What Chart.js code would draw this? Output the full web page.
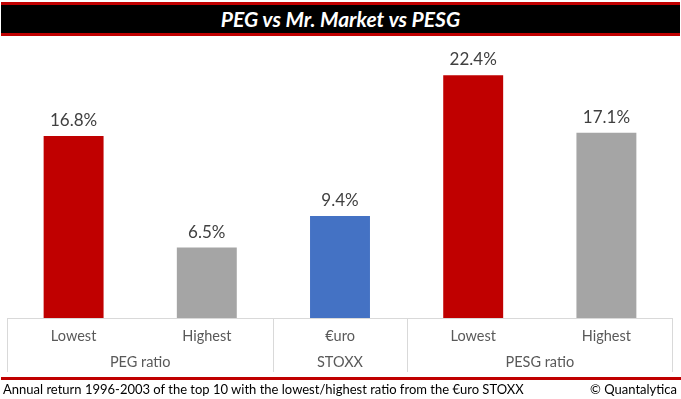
<!DOCTYPE html>
<html>
<head>
<meta charset="utf-8">
<script src="https://cdn.jsdelivr.net/npm/chart.js@4.4.0/dist/chart.umd.min.js"></script>
<style>
  html, body { margin: 0; padding: 0; background: #fff; }
  #wrap { position: relative; width: 681px; height: 399px; overflow: hidden; }
  #c { position: absolute; left: 0; top: 0; }
  #title {
    position: absolute; left: 1px; top: 2px; width: 679px; height: 28px;
    background: #000; border-top: 3px solid #c00000; border-bottom: 3px solid #c00000;
    color: #fff; font-family: Lato, "Open Sans", sans-serif; font-weight: 700; font-style: italic;
    font-size: 21px; line-height: 28px; text-align: center;
  }
  #footline { position: absolute; left: 1px; top: 377px; width: 680px; height: 3px; background: #c00000; }
  #foot {
    position: absolute; left: 3px; right: 4px; top: 381px; height: 16px;
    font-family: Lato, "Open Sans", sans-serif; font-size: 13px; line-height: 16px; color: #000;
  }
  #foot .r { position: absolute; right: 0; top: 0; }
</style>
</head>
<body>
<div id="wrap">
  <canvas id="c" width="681" height="399"></canvas>
  <div id="title">PEG vs Mr. Market vs PESG</div>
  <div id="footline"></div>
  <div id="foot"><span>Annual return 1996-2003 of the top 10 with the lowest/highest ratio from the €uro STOXX</span><span class="r">© Quantalytica</span></div>
</div>
<script>
const categories = ['Lowest', 'Highest', '€uro', 'Lowest', 'Highest'];
const values = [16.8, 6.5, 9.4, 22.4, 17.1];
const barColors = ['#c00000', '#a5a5a5', '#4472c4', '#c00000', '#a5a5a5'];
const groups = ['PEG ratio', 'STOXX', 'PESG ratio'];
const groupSpans = [2, 1, 2];

// derived group centers / boundaries (in category units)
const groupCenters = [];
const boundaries = [-0.5];
let start = -0.5;
groupSpans.forEach(s => { groupCenters.push(start + s / 2); start += s; boundaries.push(start); });

const FONT = 'Lato, "Open Sans", sans-serif';

const labelPlugin = {
  id: 'barLabels',
  afterDatasetsDraw(chart) {
    const ctx = chart.ctx;
    const meta = chart.getDatasetMeta(0);
    ctx.save();
    ctx.font = '17px ' + FONT;
    ctx.fillStyle = '#404040';
    ctx.textAlign = 'center';
    ctx.textBaseline = 'alphabetic';
    meta.data.forEach((bar, i) => {
      ctx.fillText(values[i].toFixed(1) + '%', bar.x, bar.y - 10);
    });
    ctx.restore();
  }
};

const boxPlugin = {
  id: 'groupBox',
  afterDraw(chart) {
    const ctx = chart.ctx;
    const xs = chart.scales.x;
    const x2 = chart.scales.x2;
    const top = chart.chartArea.bottom;
    const bottom = x2.bottom;
    ctx.save();
    ctx.strokeStyle = '#d9d9d9';
    ctx.lineWidth = 1;
    ctx.beginPath();
    const px = b => xs.getPixelForValue(b);
    const l = Math.round(px(boundaries[0])) + 0.5;
    const r = Math.round(px(boundaries[boundaries.length - 1])) - 0.5;
    ctx.moveTo(l, top + 0.5);
    ctx.lineTo(r, top + 0.5);
    boundaries.forEach((b, i) => {
      let p = Math.round(px(b)) + 0.5;
      if (i === boundaries.length - 1) p = r;
      ctx.moveTo(p, top);
      ctx.lineTo(p, bottom);
    });
    ctx.stroke();
    ctx.restore();
  }
};

new Chart(document.getElementById('c'), {
  type: 'bar',
  data: {
    labels: categories,
    datasets: [{ data: values, backgroundColor: barColors, borderWidth: 0, barPercentage: 0.45, categoryPercentage: 1, xAxisID: 'x' }]
  },
  options: {
    responsive: false,
    animation: false,
    events: [],
    layout: { padding: { left: 7, right: 8, top: 47, bottom: 27 } },
    plugins: { legend: { display: false }, tooltip: { enabled: false } },
    scales: {
      y: { display: false, min: 0, max: 25 },
      x: {
        weight: 0,
        offset: true,
        grid: { display: false, drawTicks: false },
        border: { display: false },
        ticks: { color: '#595959', font: { family: FONT, size: 14.5 }, padding: 10, maxRotation: 0, autoSkip: false },
        afterFit(s) { s.height = 27; }
      },
      x2: {
        type: 'linear',
        axis: 'x',
        position: 'bottom',
        weight: 1,
        offset: false,
        bounds: 'data',
        grace: 0,
        min: boundaries[0],
        max: boundaries[boundaries.length - 1],
        grid: { display: false, drawTicks: false, offset: false },
        border: { display: false },
        afterBuildTicks(s) { s.ticks = groupCenters.map(v => ({ value: v })); },
        ticks: {
          color: '#595959', font: { family: FONT, size: 14.5 }, padding: 9, maxRotation: 0, autoSkip: false,
          callback(v) { const i = groupCenters.indexOf(v); return i >= 0 ? groups[i] : ''; }
        },
        afterFit(s) { s.height = 27; }
      }
    }
  },
  plugins: [labelPlugin, boxPlugin]
});
</script>
</body>
</html>
